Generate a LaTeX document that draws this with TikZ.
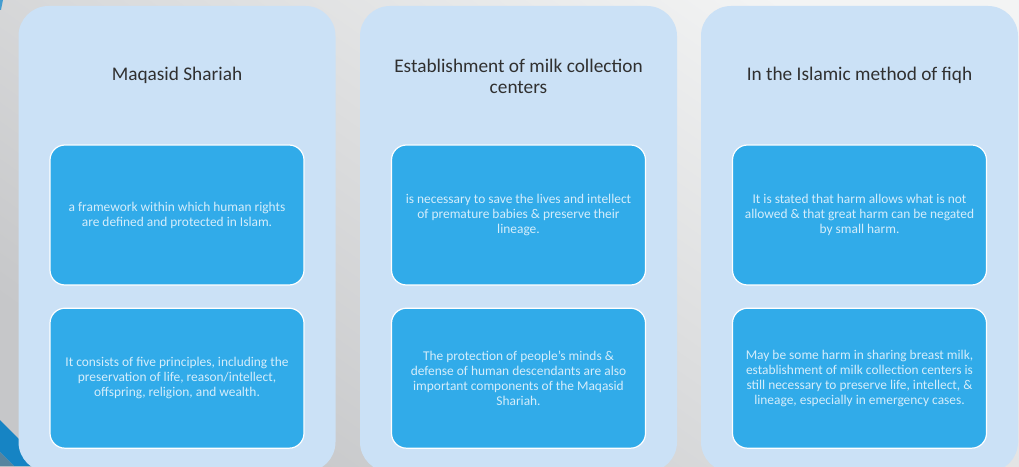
\documentclass[tikz,border=0pt]{standalone}
\usepackage{fontspec}
\setmainfont{Carlito}
\usetikzlibrary{positioning}
\definecolor{panelblue}{HTML}{CBE1F6}
\definecolor{boxblue}{HTML}{31ABE9}
\definecolor{boxtext}{HTML}{D4EDFB}
\definecolor{titlegray}{HTML}{303030}
\definecolor{bandblue}{HTML}{1684C4}
\definecolor{bgtop}{HTML}{F3F4F4}
\definecolor{bgbottom}{HTML}{C6C7C9}

\begin{document}
\begin{tikzpicture}[x=1pt, y=1pt,
      panel/.style={fill=panelblue, rounded corners=30pt, minimum width=317pt, minimum height=466pt, inner sep=0pt},
      heading/.style={text=titlegray, font=\fontsize{19.3}{21}\selectfont, align=center},
      box/.style={fill=boxblue, draw=white, line width=1.2pt, rounded corners=15pt, minimum width=254pt, minimum height=140pt, inner sep=0pt, text=boxtext, font=\fontsize{13.4}{15}\selectfont, align=center}
    ]
    \clip (0,0) rectangle (1019,466);

    % Background
    \shade[top color=bgtop, bottom color=bgbottom, shading angle=-35] (0,0) rectangle (1019,466);
    \fill[bandblue] (0,46) -- (46,0) -- (14,0) -- (0,14) -- cycle;
    \fill[bandblue!60!black!70] (0,14) -- (14,0) -- (0,0) -- cycle;
    \fill[bandblue!80] (0,466) -- (3,466) -- (1,456) -- (0,456) -- cycle;

    % Panels
    \node[panel] (maqasid) at (177,227) {};
    \node[panel] (milk) at (518.5,227) {};
    \node[panel] (fiqh) at (859.5,227) {};

    % Headings
    \node[heading] (maqasidtitle) at (177,391) {Maqasid Shariah};
    \node[heading] (milktitle) at (518.5,390) {Establishment of milk collection\\centers};
    \node[heading] (fiqhtitle) at (859.5,391) {In the Islamic method of fiqh};

    % Boxes
    \node[box] (maqasidtop) at (177,251) {a framework within which human rights\\are defined and protected in Islam.};
    \node[box, below=22pt of maqasidtop] (maqasidbottom) {It consists of five principles, including the\\preservation of life, reason/intellect,\\offspring, religion, and wealth.};
    \node[box] (milktop) at (518.5,251) {is necessary to save the lives and intellect\\of premature babies \& preserve their\\lineage.};
    \node[box, below=22pt of milktop] (milkbottom) {The protection of people's minds \&\\defense of human descendants are also\\important components of the Maqasid\\Shariah.};
    \node[box] (fiqhtop) at (859.5,251) {It is stated that harm allows what is not\\allowed \& that great harm can be negated\\by small harm.};
    \node[box, below=22pt of fiqhtop] (fiqhbottom) {May be some harm in sharing breast milk,\\establishment of milk collection centers is\\still necessary to preserve life, intellect, \&\\lineage, especially in emergency cases.};

  \end{tikzpicture}
\end{document}
